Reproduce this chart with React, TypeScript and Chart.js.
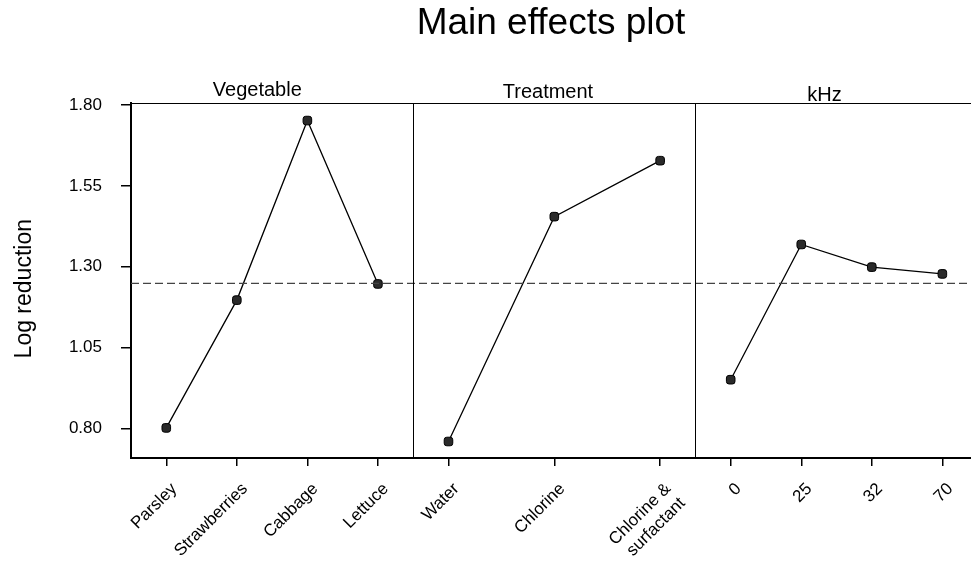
import React, { useEffect, useRef } from "react";
import { Chart, registerables } from "chart.js";

Chart.register(...registerables);

const FONT = '"Liberation Sans", Arial, Helvetica, sans-serif';

// Panel 1: Vegetable
const vegetableLabels = ["Parsley", "Strawberries", "Cabbage", "Lettuce"];
const vegetableX = [0.5, 1.5, 2.5, 3.5];
const vegetableY = [0.802, 1.197, 1.752, 1.247];

// Panel 2: Treatment
const treatmentLabels: (string | string[])[] = ["Water", "Chlorine", ["Chlorine &", "surfactant"]];
const treatmentX = [4.5, 6, 7.5];
const treatmentY = [0.76, 1.455, 1.628];

// Panel 3: kHz
const khzLabels = ["0", "25", "32", "70"];
const khzX = [8.5, 9.5, 10.5, 11.5];
const khzY = [0.951, 1.369, 1.299, 1.278];

const grandMean = 1.249;
const yTicks = [0.8, 1.05, 1.3, 1.55, 1.8];
const yMin = 0.709;
const yMax = 1.805;
const xMin = 0;
const xMax = 11.906;

const yAxisTitle = "Log reduction";
const panelTitles = ["Vegetable", "Treatment", "kHz"];
const panelTitleX = [1.79, 5.91, 9.83];
const panelTitleLift = [7, 5, 2];
const panelDividers = [4, 8];

const allTickX = [...vegetableX, ...treatmentX, ...khzX];
const allTickLabels = [...vegetableLabels, ...treatmentLabels, ...khzLabels];

const toPoints = (xs: number[], ys: number[]) => xs.map((x, i) => ({ x, y: ys[i] }));

const panelPlugin = {
  id: "panelPlugin",
  afterDatasetsDraw(chart: any) {
    const { ctx, chartArea, scales } = chart;
    const x = scales.x;
    ctx.save();
    ctx.strokeStyle = "#000";
    ctx.lineWidth = 1;
    ctx.beginPath();
    ctx.moveTo(chartArea.left, Math.round(chartArea.top) + 0.5);
    ctx.lineTo(chartArea.right, Math.round(chartArea.top) + 0.5);
    ctx.stroke();
    for (const d of panelDividers) {
      const px = Math.round(x.getPixelForValue(d)) + 0.5;
      ctx.beginPath();
      ctx.moveTo(px, chartArea.top);
      ctx.lineTo(px, chartArea.bottom);
      ctx.stroke();
    }
    ctx.fillStyle = "#000";
    ctx.font = `20px ${FONT}`;
    ctx.textAlign = "center";
    ctx.textBaseline = "alphabetic";
    panelTitles.forEach((t, i) => {
      ctx.fillText(t, x.getPixelForValue(panelTitleX[i]), chartArea.top - panelTitleLift[i]);
    });
    // y axis title
    ctx.font = `23px ${FONT}`;
    ctx.textBaseline = "middle";
    ctx.translate(25, (chartArea.top + chartArea.bottom) / 2 + 8);
    ctx.rotate(-Math.PI / 2);
    ctx.fillText(yAxisTitle, 0, 0);
    ctx.restore();
  },
};

const seriesStyle = {
  borderColor: "#000",
  borderWidth: 1.3,
  showLine: true,
  pointRadius: 5,
  pointStyle: "rectRounded",
  pointBackgroundColor: "#2a2a2a",
  pointBorderColor: "#000",
  pointBorderWidth: 1,
};

export default function App() {
  const canvasRef = useRef<HTMLCanvasElement | null>(null);

  useEffect(() => {
    if (!canvasRef.current) return;
    const chart = new Chart(canvasRef.current, {
      type: "scatter",
      data: {
        datasets: [
          {
            label: "mean",
            data: [
              { x: xMin, y: grandMean },
              { x: xMax, y: grandMean },
            ],
            borderColor: "#444",
            borderWidth: 1.2,
            borderDash: [8, 4],
            showLine: true,
            pointRadius: 0,
          },
          { label: "Vegetable", data: toPoints(vegetableX, vegetableY), ...seriesStyle },
          { label: "Treatment", data: toPoints(treatmentX, treatmentY), ...seriesStyle },
          { label: "kHz", data: toPoints(khzX, khzY), ...seriesStyle },
        ] as any,
      },
      options: {
        animation: false,
        responsive: true,
        maintainAspectRatio: false,
        layout: { padding: 0, autoPadding: false },
        plugins: {
          legend: { display: false },
          tooltip: { enabled: false },
          title: {
            display: true,
            fullSize: false,
            text: "Main effects plot",
            color: "#000",
            font: { size: 37, family: FONT, weight: "normal" },
            padding: { top: 2, bottom: 57 },
          },
        },
        scales: {
          x: {
            type: "linear",
            min: xMin,
            max: xMax,
            afterBuildTicks: (s: any) => {
              s.ticks = allTickX.map((v) => ({ value: v }));
            },
            afterFit: (s: any) => {
              s.height = 103;
              s.paddingRight = 0;
            },
            ticks: {
              autoSkip: false,
              minRotation: 45,
              maxRotation: 45,
              color: "#000",
              padding: 13,
              labelOffset: 8,
              font: { size: 17, family: FONT },
              callback: (_v: any, i: number) => allTickLabels[i] as any,
            },
            grid: {
              drawOnChartArea: false,
              drawTicks: true,
              tickLength: 8,
              color: "#000",
              lineWidth: 1.5,
            },
            border: { display: true, color: "#000", width: 2 },
          },
          y: {
            type: "linear",
            min: yMin,
            max: yMax,
            afterBuildTicks: (s: any) => {
              s.ticks = yTicks.map((v) => ({ value: v }));
            },
            afterFit: (s: any) => {
              s.width = 131;
            },
            ticks: {
              color: "#000",
              padding: 19,
              font: { size: 17, family: FONT },
              callback: (v: any) => Number(v).toFixed(2),
            },
            grid: {
              drawOnChartArea: false,
              drawTicks: true,
              tickLength: 10,
              color: "#000",
              lineWidth: 1.5,
            },
            border: { display: true, color: "#000", width: 2 },
          },
        },
      },
      plugins: [panelPlugin],
    });
    return () => chart.destroy();
  }, []);

  return (
    <div style={{ position: "fixed", left: 0, top: 0, width: 971, height: 561, background: "#fff" }}>
      <canvas ref={canvasRef} />
    </div>
  );
}
